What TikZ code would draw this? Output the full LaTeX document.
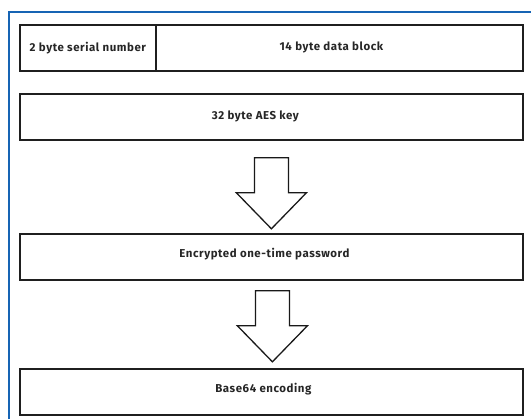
\documentclass[tikz,border=0pt]{standalone}
\usepackage{fontspec}
\setmainfont{Fira Sans}[LetterSpace=5]
\usetikzlibrary{calc}

\tikzset{
  field/.style={draw=black!88, line width=1.8pt, fill=white, minimum height=46bp, inner sep=0pt},
  fieldtext/.style={font=\bfseries\fontsize{11.5}{13}\selectfont, text=black!85},
  flowarrow/.pic={
    \draw[black!90, line width=1.3pt, fill=white, line join=miter]
      (-17bp,0bp) -- (17bp,0bp) -- (17bp,-35bp) -- (35bp,-35bp) -- (0bp,-71bp)
      -- (-35bp,-35bp) -- (-17bp,-35bp) -- cycle;
  }
}

\begin{document}
\begin{tikzpicture}[x=1bp, y=-1bp]

    \useasboundingbox (0,0) rectangle (531,419);

    % frame, only top and left side visible
    \draw[color={rgb,255:red,22;green,100;blue,180}, line width=2.6pt] (9,419) -- (9,12) -- (531,12);

    % first row: serial number + data block
    \node[field, minimum width=136bp, anchor=north west] (serial) at (19,24) {};
    \node[field, minimum width=367bp, anchor=north west] (data) at (155,24) {};
    \node[fieldtext] (serialtxt) at (serial.center) {2 byte serial number};
    \node[fieldtext] (datatxt) at ($(data.center)+(-8,0)$) {14 byte data block};

    % key
    \node[field, minimum width=503bp, anchor=north west] (key) at (19,93) {};
    \node[fieldtext] (keytxt) at ($(key.center)+(-16,0)$) {32 byte AES key};

    \pic at ($(key.south)+(0,17)$) {flowarrow};

    % encrypted result
    \node[field, minimum width=503bp, anchor=north west] (otp) at (19,233) {};
    \node[fieldtext] (otptxt) at ($(otp.center)+(-7,-3)$) {Encrypted one-time password};

    \pic at ($(otp.south)+(1,10)$) {flowarrow};

    % encoding
    \node[field, minimum width=503bp, anchor=north west] (enc) at (19,368) {};
    \node[fieldtext] (enctxt) at ($(enc.center)+(-8,-3)$) {Base64 encoding};

\end{tikzpicture}
\end{document}
